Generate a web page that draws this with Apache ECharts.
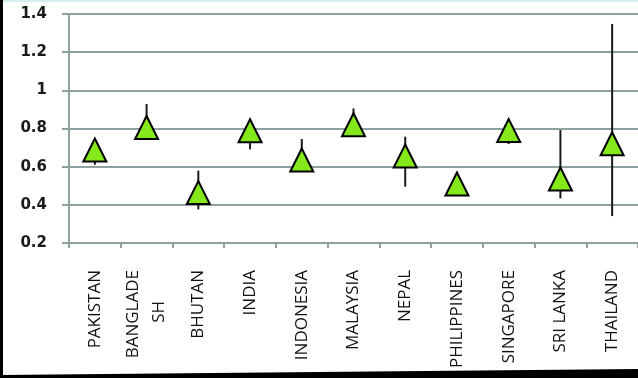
<!DOCTYPE html>
<html>
<head>
<meta charset="utf-8">
<script src="https://cdn.jsdelivr.net/npm/echarts@6/dist/echarts.min.js"></script>
<style>
  html, body { margin: 0; padding: 0; background: #ffffff; }
  #chart { width: 638px; height: 378px; }
</style>
</head>
<body>
<div id="chart"></div>
<script>
// Country labels (the long name wraps onto a second, centred line)
const categories = ['PAKISTAN', 'BANGLADE\nSH       ', 'BHUTAN', 'INDIA', 'INDONESIA', 'MALAYSIA',
  'NEPAL', 'PHILIPPINES', 'SINGAPORE', 'SRI LANKA', 'THAILAND'];

// Point estimates
const estimates = [0.687, 0.805, 0.464, 0.788, 0.635, 0.82, 0.656, 0.509, 0.789, 0.535, 0.72];

// Interval bounds
const lowerBounds = [0.61, 0.76, 0.376, 0.691, 0.60, 0.79, 0.495, 0.48, 0.719, 0.434, 0.341];
const upperBounds = [0.74, 0.928, 0.579, 0.84, 0.745, 0.905, 0.757, 0.54, 0.82, 0.792, 1.348];

// Value axis range
const yMin = 0.2;
const yMax = 1.4;
const yStep = 0.2;

const gridColor = '#8ea0a0';

const chart = echarts.init(document.getElementById('chart'), null, { renderer: 'canvas' });

const intervalData = categories.map((c, i) => [i, lowerBounds[i], upperBounds[i]]);

chart.setOption({
  backgroundColor: '#ffffff',
  animation: false,
  grid: { left: 69, right: -5, top: 14, bottom: 135, containLabel: false },
  graphic: [
    { type: 'rect', shape: { x: 0, y: 0, width: 638, height: 2 }, style: { fill: '#d2eeee' }, z: 100 },
    { type: 'rect', shape: { x: 0, y: 0, width: 3, height: 378 }, style: { fill: '#000000' }, z: 100 },
    { type: 'polygon', shape: { points: [[0, 375], [638, 369], [638, 378], [0, 378]] }, style: { fill: '#000000' }, z: 100 }
  ],
  xAxis: {
    type: 'category',
    data: categories,
    boundaryGap: true,
    axisLine: { show: true, lineStyle: { color: gridColor, width: 2 } },
    axisTick: { show: true, length: 5, lineStyle: { color: gridColor, width: 2 } },
    axisLabel: {
      rotate: 90,
      margin: 27,
      interval: 0,
      fontFamily: 'Open Sans',
      fontSize: 17,
      lineHeight: 26,
      color: '#111111'
    },
    splitLine: { show: false }
  },
  yAxis: {
    type: 'value',
    min: yMin,
    max: yMax,
    interval: yStep,
    axisLine: { show: true, lineStyle: { color: gridColor, width: 2 } },
    axisTick: { show: true, length: 7, lineStyle: { color: gridColor, width: 2 } },
    axisLabel: {
      margin: 22,
      fontFamily: 'DejaVu Sans',
      fontWeight: 'bold',
      fontSize: 15,
      color: '#1a1a1a',
      formatter: v => String(+v.toFixed(1))
    },
    splitLine: { show: true, lineStyle: { color: gridColor, width: 2 } }
  },
  series: [
    {
      type: 'custom',
      name: 'interval',
      z: 2,
      data: intervalData,
      renderItem: (params, api) => {
        const x = api.value(0);
        const lo = api.coord([x, api.value(1)]);
        const hi = api.coord([x, api.value(2)]);
        return {
          type: 'line',
          shape: { x1: lo[0], y1: lo[1], x2: hi[0], y2: hi[1] },
          style: { stroke: '#1a1a1a', lineWidth: 2 }
        };
      }
    },
    {
      type: 'scatter',
      name: 'estimate',
      z: 5,
      data: estimates,
      symbol: 'triangle',
      symbolSize: [23, 23],
      itemStyle: { color: '#84e81a', borderColor: '#000000', borderWidth: 2, opacity: 1 }
    }
  ]
});
</script>
</body>
</html>
